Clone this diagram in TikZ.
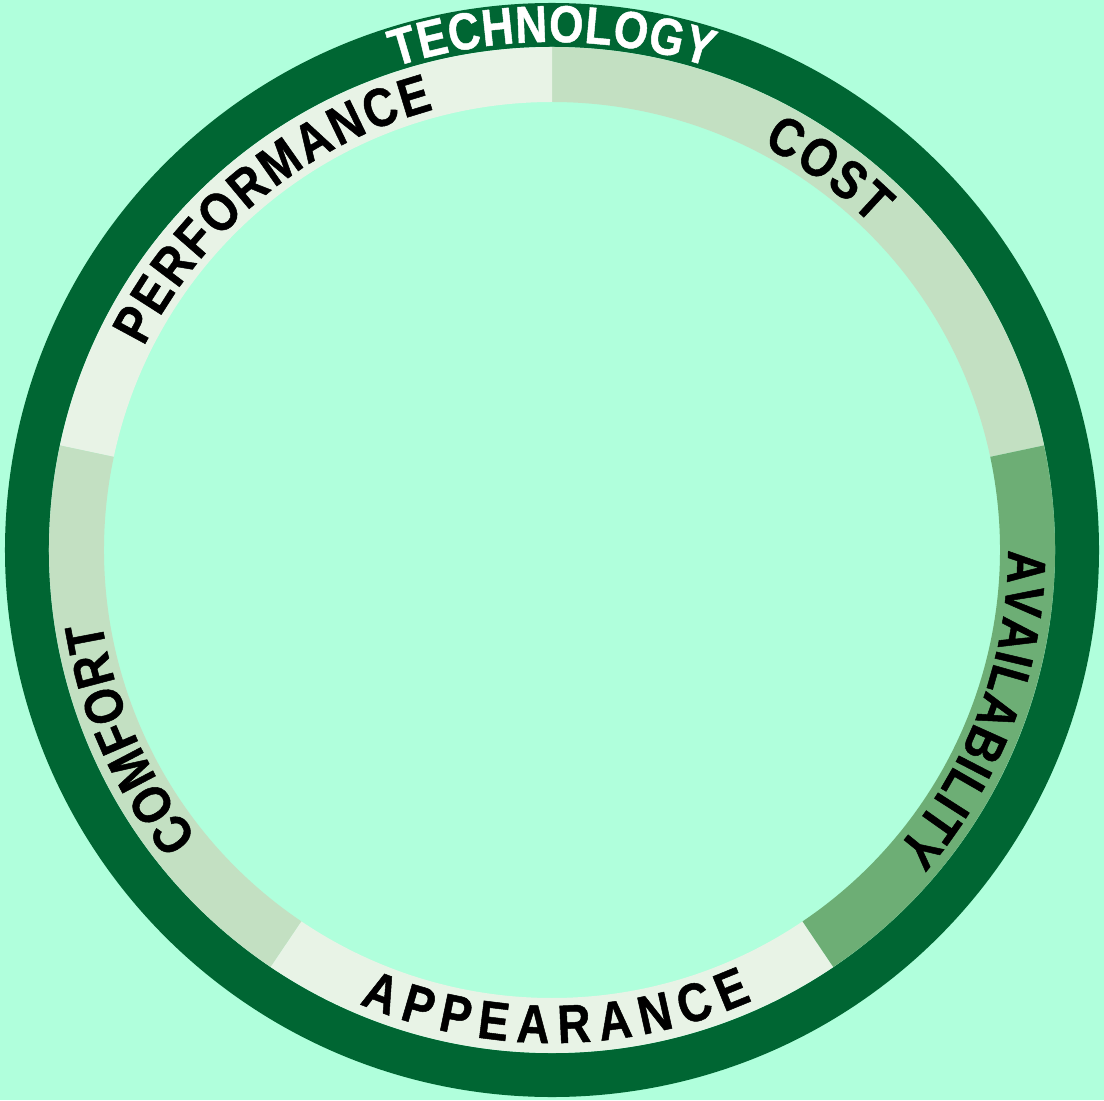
\documentclass[tikz,border=0pt]{standalone}
\usepackage{fontspec}
\setmainfont{Liberation Sans}
\newfontfamily\labelfamily{Liberation Sans}[FakeStretch=0.85, FakeBold=0.9]
\usetikzlibrary{decorations.text}
\definecolor{mintbg}{HTML}{B0FFDC}
\definecolor{ringdark}{HTML}{006633}
\definecolor{seglight}{HTML}{E8F3E6}
\definecolor{segmid}{HTML}{C3E0C2}
\definecolor{segavail}{HTML}{6DAE75}
\newcommand{\ringfont}{\labelfamily\bfseries\fontsize{14.8}{14.8}\selectfont}
\newcommand{\segfont}{\labelfamily\bfseries\fontsize{15.4}{15.4}\selectfont}
\tikzset{
    arclabel/.style={decorate, decoration={text along path, text align={fit to path}, text={#1}}},
    whitelabel/.style={decorate, decoration={text along path, text align={fit to path}, text color=white, text={#1}}}
}
\begin{document}
\begin{tikzpicture}
    \useasboundingbox (-5.52,-5.50) rectangle (5.52,5.50);
    \fill[mintbg] (-5.52,-5.50) rectangle (5.52,5.50);
    \fill[ringdark] (0,0) circle (5.47);
    \fill[mintbg] (0,0) circle (5.03);
    % segments of the ring
    \foreach \a/\b/\c in {12/90/segmid, 90/168/seglight, 168/236/segmid, 236/304/seglight, 304/372/segavail} {
        \fill[\c] (\a:5.03) arc[start angle=\a, end angle=\b, radius=5.03]
            -- (\b:4.48) arc[start angle=\b, end angle=\a, radius=4.48] -- cycle;
    }
    % labels
    \path[whitelabel={|\ringfont|TECHNOLOGY}] (108:5.08) arc[start angle=108, end angle=72, radius=5.08];
    \path[arclabel={|\segfont|PERFORMANCE}] (153.5:4.56) arc[start angle=153.5, end angle=105, radius=4.56];
    \path[arclabel={|\segfont|COST}] (62.5:4.56) arc[start angle=62.5, end angle=45.5, radius=4.56];
    \path[arclabel={|\segfont|AVAILABILITY}] (0:4.56) arc[start angle=0, end angle=-41, radius=4.56];
    \path[arclabel={|\segfont|COMFORT}] (219:4.56) arc[start angle=219, end angle=189, radius=4.56];
    \path[arclabel={|\segfont|APPEARANCE}] (247:4.93) arc[start angle=247, end angle=294, radius=4.93];
\end{tikzpicture}
\end{document}
